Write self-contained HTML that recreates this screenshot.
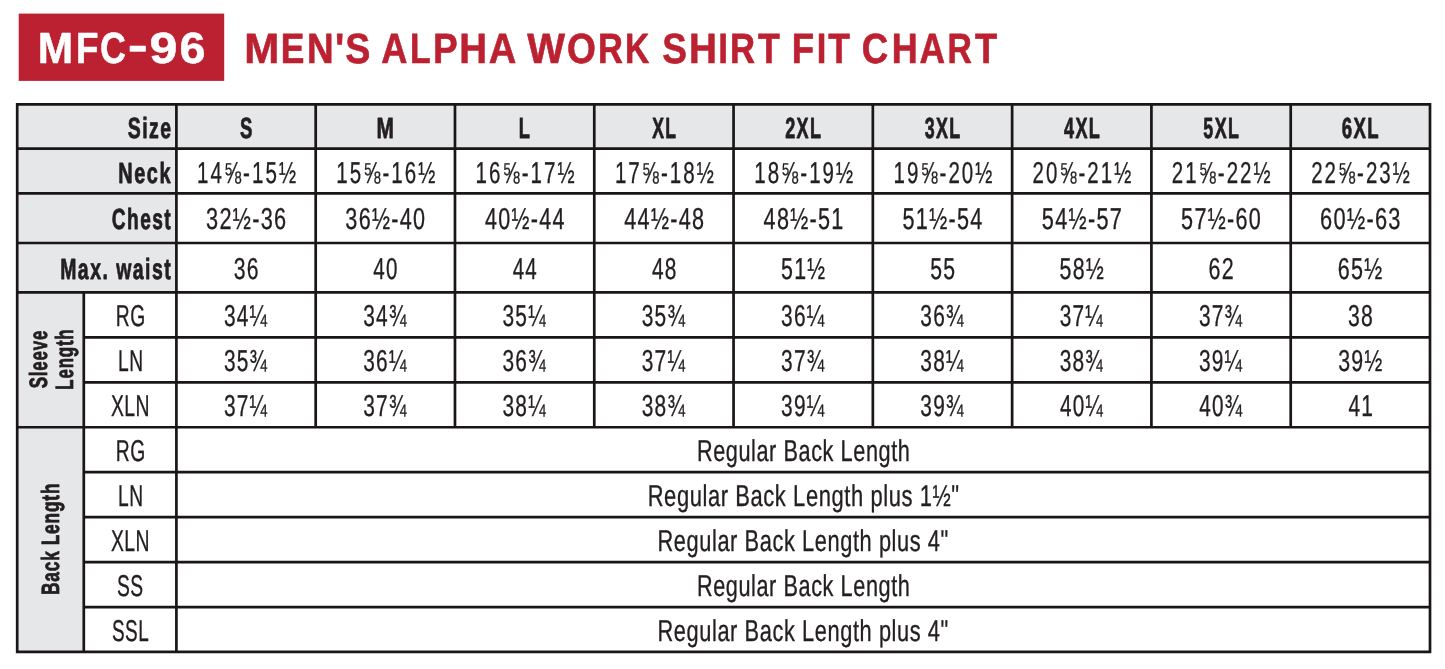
<!DOCTYPE html>
<html lang="en">
<head>
<meta charset="utf-8">
<title>MFC-96 Men's Alpha Work Shirt Fit Chart</title>
<style>
html,body{margin:0;padding:0;background:#fff;}
body{width:1445px;height:669px;overflow:hidden;}
svg{display:block;}
svg text{font-family:"Liberation Sans",sans-serif;white-space:pre;text-rendering:geometricPrecision;}
svg text.h{stroke:#231f20;stroke-width:0.8px;vector-effect:non-scaling-stroke;stroke-linejoin:round;}
svg text.r{stroke:#231f20;stroke-width:0.35px;vector-effect:non-scaling-stroke;stroke-linejoin:round;}
</style>
</head>
<body>
<svg width="1445" height="669" viewBox="0 0 1445 669">
<rect width="1445" height="669" fill="#fff"/>
<rect x="18.70" y="13.60" width="205.50" height="67.30" fill="#bb2130"/>
<path d="M17.20 104.40H1430.00V148.60H176.40V292.45H17.20Z" fill="#e6e7e8"/>
<rect x="17.20" y="292.45" width="66.60" height="359.52" fill="#e6e7e8"/>
<path d="M15.85 104.40H1431.35M15.85 148.60H1431.35M15.85 193.45H1431.35M15.85 243.00H1431.35M15.85 292.45H1431.35M83.80 337.39H1431.35M83.80 382.33H1431.35M15.85 427.27H1431.35M83.80 472.21H1431.35M83.80 517.15H1431.35M83.80 562.09H1431.35M83.80 607.03H1431.35M15.85 651.97H1431.35M17.20 104.40V651.97M1430.00 104.40V651.97M176.40 104.40V651.97M83.80 292.45V651.97M315.69 104.40V427.27M454.98 104.40V427.27M594.27 104.40V427.27M733.56 104.40V427.27M872.84 104.40V427.27M1012.13 104.40V427.27M1151.42 104.40V427.27M1290.71 104.40V427.27" fill="none" stroke="#1a1617" stroke-width="2.70"/>
<g fill="#231f20">
<text y="62.50" font-size="43.80" font-weight="700" fill="#ffffff" stroke="#ffffff" stroke-width="0.5" stroke-linejoin="round"><tspan x="37.85" textLength="35.35" lengthAdjust="spacingAndGlyphs">M</tspan><tspan x="76.00" textLength="22.51" lengthAdjust="spacingAndGlyphs">F</tspan><tspan x="99.88" textLength="25.90" lengthAdjust="spacingAndGlyphs">C</tspan><tspan x="127.82" dy="-2.4" textLength="20.06" lengthAdjust="spacingAndGlyphs">-</tspan><tspan x="149.43" dy="2.4" textLength="27.92" lengthAdjust="spacingAndGlyphs">9</tspan><tspan x="179.44" textLength="25.92" lengthAdjust="spacingAndGlyphs">6</tspan></text>
<text y="62.70" font-size="42.30" font-weight="700" fill="#bb2130" stroke="#bb2130" stroke-width="0.6" stroke-linejoin="round"><tspan x="244.27" textLength="35.00" lengthAdjust="spacingAndGlyphs">M</tspan><tspan x="280.68" textLength="23.65" lengthAdjust="spacingAndGlyphs">E</tspan><tspan x="306.89" textLength="26.64" lengthAdjust="spacingAndGlyphs">N</tspan><tspan x="335.07" textLength="9.30" lengthAdjust="spacingAndGlyphs">'</tspan><tspan x="345.31" textLength="25.08" lengthAdjust="spacingAndGlyphs">S</tspan> <tspan x="381.33" textLength="26.16" lengthAdjust="spacingAndGlyphs">A</tspan><tspan x="410.08" textLength="20.70" lengthAdjust="spacingAndGlyphs">L</tspan><tspan x="432.99" textLength="24.69" lengthAdjust="spacingAndGlyphs">P</tspan><tspan x="459.20" textLength="27.73" lengthAdjust="spacingAndGlyphs">H</tspan><tspan x="488.73" textLength="26.16" lengthAdjust="spacingAndGlyphs">A</tspan> <tspan x="527.30" textLength="37.73" lengthAdjust="spacingAndGlyphs">W</tspan><tspan x="567.04" textLength="28.89" lengthAdjust="spacingAndGlyphs">O</tspan><tspan x="597.94" textLength="24.91" lengthAdjust="spacingAndGlyphs">R</tspan><tspan x="625.00" textLength="24.32" lengthAdjust="spacingAndGlyphs">K</tspan> <tspan x="662.22" textLength="24.65" lengthAdjust="spacingAndGlyphs">S</tspan><tspan x="688.99" textLength="27.85" lengthAdjust="spacingAndGlyphs">H</tspan><tspan x="718.30" textLength="9.78" lengthAdjust="spacingAndGlyphs">I</tspan><tspan x="730.03" textLength="25.03" lengthAdjust="spacingAndGlyphs">R</tspan><tspan x="758.00" textLength="21.85" lengthAdjust="spacingAndGlyphs">T</tspan> <tspan x="791.81" textLength="22.39" lengthAdjust="spacingAndGlyphs">F</tspan><tspan x="816.74" textLength="9.60" lengthAdjust="spacingAndGlyphs">I</tspan><tspan x="828.30" textLength="21.65" lengthAdjust="spacingAndGlyphs">T</tspan> <tspan x="861.86" textLength="26.44" lengthAdjust="spacingAndGlyphs">C</tspan><tspan x="891.66" textLength="25.91" lengthAdjust="spacingAndGlyphs">H</tspan><tspan x="919.45" textLength="25.53" lengthAdjust="spacingAndGlyphs">A</tspan><tspan x="947.59" textLength="24.35" lengthAdjust="spacingAndGlyphs">R</tspan><tspan x="974.90" textLength="22.15" lengthAdjust="spacingAndGlyphs">T</tspan></text>
<text transform="translate(127.70 137.70) scale(0.6672 1)" font-size="29.20" font-weight="700" class="h" letter-spacing="2.20">Size</text>
<text transform="translate(118.36 182.70) scale(0.6821 1)" font-size="29.20" font-weight="700" class="h" letter-spacing="2.20">Neck</text>
<text transform="translate(111.80 229.40) scale(0.6549 1)" font-size="29.20" font-weight="700" class="h" letter-spacing="2.20">Chest</text>
<text transform="translate(60.18 278.80) scale(0.6663 1)" font-size="29.20" font-weight="700" class="h" letter-spacing="2.20">Max. waist</text>
<text transform="translate(239.95 137.70) scale(0.6356 1)" font-size="29.20" font-weight="700" class="h" letter-spacing="2.20">S</text>
<text transform="translate(376.53 137.70) scale(0.7147 1)" font-size="29.20" font-weight="700" class="h" letter-spacing="2.20">M</text>
<text transform="translate(518.63 137.70) scale(0.6253 1)" font-size="29.20" font-weight="700" class="h" letter-spacing="2.20">L</text>
<text transform="translate(652.16 137.70) scale(0.6024 1)" font-size="29.20" font-weight="700" class="h" letter-spacing="2.20">XL</text>
<text transform="translate(785.19 137.70) scale(0.6173 1)" font-size="29.20" font-weight="700" class="h" letter-spacing="2.20">2XL</text>
<text transform="translate(924.76 137.70) scale(0.6123 1)" font-size="29.20" font-weight="700" class="h" letter-spacing="2.20">3XL</text>
<text transform="translate(1064.03 137.70) scale(0.6179 1)" font-size="29.20" font-weight="700" class="h" letter-spacing="2.20">4XL</text>
<text transform="translate(1203.34 137.70) scale(0.6123 1)" font-size="29.20" font-weight="700" class="h" letter-spacing="2.20">5XL</text>
<text transform="translate(1341.77 137.70) scale(0.6367 1)" font-size="29.20" font-weight="700" class="h" letter-spacing="2.20">6XL</text>
<text transform="translate(197.01 182.70) scale(0.6801 1)" font-size="30.20" class="r" letter-spacing="3.00">14⅝-15½</text>
<text transform="translate(336.30 182.70) scale(0.6801 1)" font-size="30.20" class="r" letter-spacing="3.00">15⅝-16½</text>
<text transform="translate(475.59 182.70) scale(0.6801 1)" font-size="30.20" class="r" letter-spacing="3.00">16⅝-17½</text>
<text transform="translate(614.88 182.70) scale(0.6801 1)" font-size="30.20" class="r" letter-spacing="3.00">17⅝-18½</text>
<text transform="translate(754.17 182.70) scale(0.6801 1)" font-size="30.20" class="r" letter-spacing="3.00">18⅝-19½</text>
<text transform="translate(893.46 182.70) scale(0.6801 1)" font-size="30.20" class="r" letter-spacing="3.00">19⅝-20½</text>
<text transform="translate(1032.57 182.70) scale(0.6778 1)" font-size="30.20" class="r" letter-spacing="3.00">20⅝-21½</text>
<text transform="translate(1171.86 182.70) scale(0.6778 1)" font-size="30.20" class="r" letter-spacing="3.00">21⅝-22½</text>
<text transform="translate(1311.15 182.70) scale(0.6778 1)" font-size="30.20" class="r" letter-spacing="3.00">22⅝-23½</text>
<text transform="translate(206.07 229.30) scale(0.7194 1)" font-size="30.20" class="r" letter-spacing="1.80">32½-36</text>
<text transform="translate(345.36 229.30) scale(0.7163 1)" font-size="30.20" class="r" letter-spacing="1.80">36½-40</text>
<text transform="translate(484.99 229.30) scale(0.7132 1)" font-size="30.20" class="r" letter-spacing="1.80">40½-44</text>
<text transform="translate(624.27 229.30) scale(0.7163 1)" font-size="30.20" class="r" letter-spacing="1.80">44½-48</text>
<text transform="translate(763.56 229.30) scale(0.7163 1)" font-size="30.20" class="r" letter-spacing="1.80">48½-51</text>
<text transform="translate(902.51 229.30) scale(0.7163 1)" font-size="30.20" class="r" letter-spacing="1.80">51½-54</text>
<text transform="translate(1041.80 229.30) scale(0.7194 1)" font-size="30.20" class="r" letter-spacing="1.80">54½-57</text>
<text transform="translate(1181.09 229.30) scale(0.7163 1)" font-size="30.20" class="r" letter-spacing="1.80">57½-60</text>
<text transform="translate(1320.03 229.30) scale(0.7225 1)" font-size="30.20" class="r" letter-spacing="1.80">60½-63</text>
<text transform="translate(233.73 278.70) scale(0.7013 1)" font-size="30.20" class="r" letter-spacing="1.80">36</text>
<text transform="translate(373.36 278.70) scale(0.6819 1)" font-size="30.20" class="r" letter-spacing="1.80">40</text>
<text transform="translate(512.65 278.70) scale(0.6819 1)" font-size="30.20" class="r" letter-spacing="1.80">44</text>
<text transform="translate(651.93 278.70) scale(0.6915 1)" font-size="30.20" class="r" letter-spacing="1.80">48</text>
<text transform="translate(781.03 278.70) scale(0.7074 1)" font-size="30.20" class="r" letter-spacing="1.80">51½</text>
<text transform="translate(930.18 278.70) scale(0.7013 1)" font-size="30.20" class="r" letter-spacing="1.80">55</text>
<text transform="translate(1059.61 278.70) scale(0.7074 1)" font-size="30.20" class="r" letter-spacing="1.80">58½</text>
<text transform="translate(1208.41 278.70) scale(0.7114 1)" font-size="30.20" class="r" letter-spacing="1.80">62</text>
<text transform="translate(1337.85 278.70) scale(0.7129 1)" font-size="30.20" class="r" letter-spacing="1.80">65½</text>
<text transform="translate(223.89 325.65) scale(0.6913 1)" font-size="30.20" class="r" letter-spacing="1.80">34¼</text>
<text transform="translate(363.18 325.65) scale(0.6913 1)" font-size="30.20" class="r" letter-spacing="1.80">34¾</text>
<text transform="translate(502.47 325.65) scale(0.6913 1)" font-size="30.20" class="r" letter-spacing="1.80">35¼</text>
<text transform="translate(641.76 325.65) scale(0.6913 1)" font-size="30.20" class="r" letter-spacing="1.80">35¾</text>
<text transform="translate(781.05 325.65) scale(0.6913 1)" font-size="30.20" class="r" letter-spacing="1.80">36¼</text>
<text transform="translate(920.34 325.65) scale(0.6913 1)" font-size="30.20" class="r" letter-spacing="1.80">36¾</text>
<text transform="translate(1059.63 325.65) scale(0.6913 1)" font-size="30.20" class="r" letter-spacing="1.80">37¼</text>
<text transform="translate(1198.91 325.65) scale(0.6913 1)" font-size="30.20" class="r" letter-spacing="1.80">37¾</text>
<text transform="translate(1348.04 325.65) scale(0.7013 1)" font-size="30.20" class="r" letter-spacing="1.80">38</text>
<text transform="translate(223.89 370.59) scale(0.6913 1)" font-size="30.20" class="r" letter-spacing="1.80">35¾</text>
<text transform="translate(363.18 370.59) scale(0.6913 1)" font-size="30.20" class="r" letter-spacing="1.80">36¼</text>
<text transform="translate(502.47 370.59) scale(0.6913 1)" font-size="30.20" class="r" letter-spacing="1.80">36¾</text>
<text transform="translate(641.76 370.59) scale(0.6913 1)" font-size="30.20" class="r" letter-spacing="1.80">37¼</text>
<text transform="translate(781.05 370.59) scale(0.6913 1)" font-size="30.20" class="r" letter-spacing="1.80">37¾</text>
<text transform="translate(920.34 370.59) scale(0.6913 1)" font-size="30.20" class="r" letter-spacing="1.80">38¼</text>
<text transform="translate(1059.63 370.59) scale(0.6913 1)" font-size="30.20" class="r" letter-spacing="1.80">38¾</text>
<text transform="translate(1198.91 370.59) scale(0.6913 1)" font-size="30.20" class="r" letter-spacing="1.80">39¼</text>
<text transform="translate(1338.19 370.59) scale(0.7074 1)" font-size="30.20" class="r" letter-spacing="1.80">39½</text>
<text transform="translate(223.89 415.53) scale(0.6913 1)" font-size="30.20" class="r" letter-spacing="1.80">37¼</text>
<text transform="translate(363.18 415.53) scale(0.6913 1)" font-size="30.20" class="r" letter-spacing="1.80">37¾</text>
<text transform="translate(502.47 415.53) scale(0.6913 1)" font-size="30.20" class="r" letter-spacing="1.80">38¼</text>
<text transform="translate(641.76 415.53) scale(0.6913 1)" font-size="30.20" class="r" letter-spacing="1.80">38¾</text>
<text transform="translate(781.05 415.53) scale(0.6913 1)" font-size="30.20" class="r" letter-spacing="1.80">39¼</text>
<text transform="translate(920.34 415.53) scale(0.6913 1)" font-size="30.20" class="r" letter-spacing="1.80">39¾</text>
<text transform="translate(1059.95 415.53) scale(0.6861 1)" font-size="30.20" class="r" letter-spacing="1.80">40¼</text>
<text transform="translate(1199.24 415.53) scale(0.6861 1)" font-size="30.20" class="r" letter-spacing="1.80">40¾</text>
<text transform="translate(1348.38 415.53) scale(0.6915 1)" font-size="30.20" class="r" letter-spacing="1.80">41</text>
<text transform="translate(115.79 326.05) scale(0.6430 1)" font-size="30.00" class="r" letter-spacing="0.80">RG</text>
<text transform="translate(118.00 370.99) scale(0.6403 1)" font-size="30.00" class="r" letter-spacing="0.80">LN</text>
<text transform="translate(110.90 415.93) scale(0.6451 1)" font-size="30.00" class="r" letter-spacing="0.80">XLN</text>
<text transform="translate(115.79 460.87) scale(0.6430 1)" font-size="30.00" class="r" letter-spacing="0.80">RG</text>
<text transform="translate(118.00 505.81) scale(0.6403 1)" font-size="30.00" class="r" letter-spacing="0.80">LN</text>
<text transform="translate(110.90 550.75) scale(0.6451 1)" font-size="30.00" class="r" letter-spacing="0.80">XLN</text>
<text transform="translate(117.00 595.69) scale(0.6421 1)" font-size="30.00" class="r" letter-spacing="0.80">SS</text>
<text transform="translate(111.91 640.63) scale(0.6323 1)" font-size="30.00" class="r" letter-spacing="0.80">SSL</text>
<text transform="translate(696.91 460.87) scale(0.7228 1)" font-size="30.00" class="r" letter-spacing="0.80">Regular Back Length</text>
<text transform="translate(647.69 505.81) scale(0.7314 1)" font-size="30.00" class="r" letter-spacing="0.80">Regular Back Length plus 1½"</text>
<text transform="translate(657.50 550.75) scale(0.7270 1)" font-size="30.00" class="r" letter-spacing="0.80">Regular Back Length plus 4"</text>
<text transform="translate(696.91 595.69) scale(0.7228 1)" font-size="30.00" class="r" letter-spacing="0.80">Regular Back Length</text>
<text transform="translate(657.50 640.63) scale(0.7270 1)" font-size="30.00" class="r" letter-spacing="0.80">Regular Back Length plus 4"</text>
<text transform="translate(47.00 388.26) rotate(-90) scale(0.6768 1)" font-size="25.00" font-weight="700" class="h" letter-spacing="1.20" word-spacing="-0.80">Sleeve</text>
<text transform="translate(72.80 389.65) rotate(-90) scale(0.6748 1)" font-size="25.00" font-weight="700" class="h" letter-spacing="1.20" word-spacing="-0.80">Length</text>
<text transform="translate(58.60 595.08) rotate(-90) scale(0.6917 1)" font-size="25.00" font-weight="700" class="h" letter-spacing="1.20" word-spacing="-0.80">Back Length</text>
</g>
</svg>
</body>
</html>
